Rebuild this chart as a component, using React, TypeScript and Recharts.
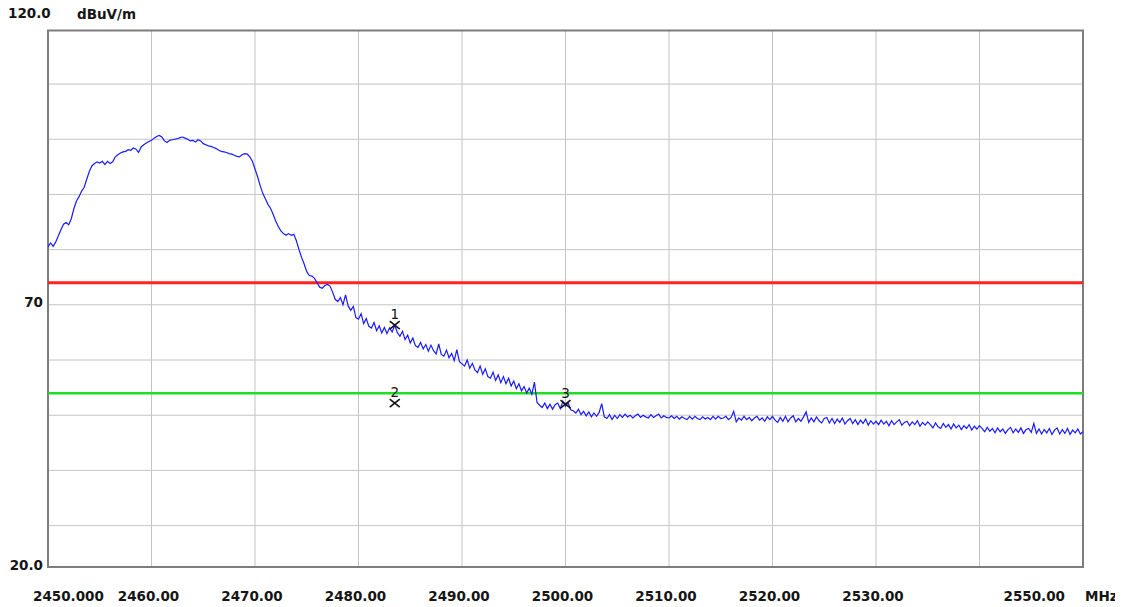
import React from 'react';
import {
  ComposedChart,
  Line,
  XAxis,
  YAxis,
  CartesianGrid,
  ReferenceLine,
  ReferenceArea,
  ReferenceDot,
} from 'recharts';

// receiver sweep: 401 points, 0.25 MHz apart, starting at 2450 MHz
const SWEEP_START = 2450;
const SWEEP_STEP = 0.25;

// 2450.00 - 2478.00 MHz (carrier)
const bandLevels = [
  80.5, 81.2, 80.6, 81.4, 82.5, 83.6, 84.6, 84.9, 84.5, 85.6, 87.4, 88.8, 89.6, 90.6, 91.3, 92.8, 94.2, 95.2, 95.6, 95.9,
  95.7, 96.0, 95.4, 96.0, 95.6, 95.9, 96.8, 97.2, 97.5, 97.7, 97.8, 98.1, 98.0, 98.4, 98.2, 97.6, 98.6, 99.0, 99.3, 99.6,
  99.8, 100.2, 100.5, 100.7, 100.4, 99.7, 99.4, 99.8, 99.9, 100.0, 100.1, 100.3, 100.4, 100.2, 100.0, 99.7, 99.8, 99.5, 99.9, 99.7,
  99.2, 99.0, 98.8, 98.7, 98.5, 98.3, 98.0, 97.8, 97.7, 97.6, 97.4, 97.3, 97.1, 96.9, 96.8, 97.2, 97.4, 97.3, 96.8, 96.0,
  94.6, 93.2, 91.6, 90.2, 89.2, 88.2, 87.5, 86.4, 85.2, 84.2, 83.4, 82.9, 82.6, 82.9, 82.6, 82.8, 81.6, 80.0, 78.6, 77.4,
  76.0, 75.3, 75.2, 74.8, 74.0, 73.2, 73.0, 73.5, 73.7, 73.4, 72.3, 71.0, 70.6,
];

// 2478.25 - 2505.00 MHz (band edge skirt)
const skirtLevels = [
  71.3, 70.0, 71.8, 69.8, 69.0, 69.7, 67.7, 67.4, 68.4, 66.6, 67.5, 66.1, 65.8, 66.8, 65.3, 66.2, 64.9, 65.9, 64.8, 65.8,
  65.1, 66.3, 65.0, 64.3, 65.2, 63.7, 64.5, 63.1, 64.0, 62.6, 62.3, 63.2, 62.0, 62.8, 61.6, 62.7, 61.7, 61.1, 62.9, 61.0,
  60.7, 61.8, 60.4, 61.2, 59.9, 61.9, 59.7, 59.3, 58.9, 60.0, 58.5, 59.4, 58.2, 57.7, 58.9, 57.4, 58.4, 57.0, 56.7, 57.8,
  56.3, 57.3, 55.9, 57.0, 55.7, 56.7, 55.3, 56.2, 54.8, 55.7, 54.4, 55.2, 54.0, 54.9, 53.8, 56.0, 52.3, 51.8, 51.4, 52.2,
  51.2, 52.0, 51.1, 51.9, 52.2, 51.2, 52.5, 51.6, 52.3, 51.0, 50.8, 50.4, 51.1, 50.1, 50.7, 49.9, 50.6, 49.7, 50.4, 49.8,
  50.5, 52.1, 49.7, 49.4, 50.1, 49.2, 50.0, 49.4,
];

// 2505.25 - 2550.00 MHz (noise floor)
const floorLevels = [
  50.1, 49.6, 50.2, 49.7, 50.0, 49.5, 49.9, 50.2, 49.6, 50.0, 49.7, 49.5, 50.1, 49.6, 49.9, 50.2, 49.5, 49.9, 49.6, 49.5,
  49.9, 49.4, 49.8, 49.3, 49.7, 49.4, 49.2, 49.8, 49.3, 49.8, 49.4, 49.2, 49.7, 49.3, 49.6, 49.2, 49.8, 49.3, 49.8, 49.4,
  49.5, 49.8, 49.2, 49.6, 50.7, 48.8, 49.5, 49.1, 49.8, 49.2, 49.6, 49.0, 49.5, 49.8, 49.1, 49.5, 48.9, 49.7, 49.2, 49.8,
  49.1, 48.7, 49.6, 48.9, 49.8, 48.8, 49.5, 49.9, 48.8, 49.4, 48.9, 49.7, 50.6, 48.7, 49.5, 48.8, 49.7, 49.0, 48.6, 49.4,
  49.6, 48.6, 49.4, 48.5, 49.3, 48.7, 49.5, 48.4, 49.0, 49.4, 48.5, 49.2, 48.3, 49.1, 48.5, 49.3, 48.2, 49.0, 48.4, 48.9,
  48.3, 49.1, 48.4, 48.9, 48.1, 49.0, 48.3, 48.8, 49.2, 48.2, 48.7, 48.9, 48.1, 48.8, 48.3, 49.0, 48.0, 48.7, 48.2, 48.8,
  48.3, 47.7, 48.6, 47.9, 47.6, 48.5, 47.8, 48.3, 47.5, 48.4, 47.7, 48.2, 47.4, 48.1, 47.6, 48.3, 47.3, 48.0, 47.5, 48.1,
  47.6, 47.0, 47.8, 47.1, 47.6, 46.8, 47.7, 47.0, 47.5, 46.7, 47.4, 47.8, 46.8, 47.5, 46.9, 47.7, 46.7, 47.4, 47.6, 46.9,
  48.5, 46.7, 47.5, 46.6, 47.4, 46.8, 47.6, 46.5, 47.3, 47.7, 46.6, 47.4, 46.7, 47.6, 46.5, 47.3, 46.8, 47.5, 46.6, 47.0,
];

const freqTicks = [2450, 2460, 2470, 2480, 2490, 2500, 2510, 2520, 2530, 2540, 2550];
const freqLabels = ['2450.000', '2460.00', '2470.00', '2480.00', '2490.00', '2500.00', '2510.00', '2520.00', '2530.00', '', '2550.00'];
const gridFreqs = [2460, 2470, 2480, 2490, 2500, 2510, 2520, 2530, 2540];
const gridLevels = [30, 40, 50, 60, 70, 80, 90, 100, 110];

// FCC 15.209 limits
const LIMIT_PEAK = 74;
const LIMIT_AVG = 54;

const markers = [
  { f: 2483.5, v: 66.3, label: '1' },
  { f: 2483.5, v: 52.2, label: '2' },
  { f: 2500, v: 52.0, label: '3' },
];

// visible part of the level axis (the screen is cut a bit above 20 dB)
const Y_MIN = 22.5;
const Y_MAX = 119.7;

const trace = [...bandLevels, ...skirtLevels, ...floorLevels].map((v, i) => ({
  f: SWEEP_START + i * SWEEP_STEP,
  v,
}));

const FONT = "'DejaVu Sans', sans-serif";
const TXT = '#151515';
const tickText = { fontFamily: FONT, fontSize: 13.5, fontWeight: 700, fill: TXT, dy: '0.35em' };

// eslint-disable-next-line @typescript-eslint/no-explicit-any
const FreqTick = (props: any) => {
  const { x, y, payload } = props;
  const idx = freqTicks.indexOf(payload.value);
  const label = freqLabels[idx];
  const ty = y + 29;
  if (idx === 0) {
    return <text x={x - 15} y={ty} textAnchor="start" {...tickText}>{label}</text>;
  }
  if (idx === freqTicks.length - 1) {
    return (
      <g>
        <text x={x - 18} y={ty} textAnchor="end" {...tickText}>{label}</text>
        <text x={x + 2} y={ty} textAnchor="start" {...tickText}>MHz</text>
      </g>
    );
  }
  if (!label) return <g />;
  return <text x={x - 3} y={ty} textAnchor="middle" {...tickText}>{label}</text>;
};

// eslint-disable-next-line @typescript-eslint/no-explicit-any
const LevelTick = (props: any) => {
  const { x, y, payload } = props;
  if (payload.value === Y_MAX) {
    return (
      <g>
        <text x={x - 40} y={y - 17} textAnchor="start" {...tickText}>120.0</text>
        <text x={x + 29} y={y - 16.5} textAnchor="start" {...tickText}>dBuV/m</text>
      </g>
    );
  }
  if (payload.value === Y_MIN) {
    return <text x={x - 5} y={y - 2} textAnchor="end" {...tickText}>20.0</text>;
  }
  return <text x={x - 5} y={y - 3} textAnchor="end" {...tickText}>70</text>;
};

// eslint-disable-next-line @typescript-eslint/no-explicit-any
const markerShape = (label: string) => (props: any) => {
  const { cx = 0, cy = 0 } = props;
  return (
    <g>
      <line x1={cx - 5} y1={cy - 4} x2={cx + 5} y2={cy + 4} stroke="#111" strokeWidth={1.6} />
      <line x1={cx - 5} y1={cy + 4} x2={cx + 5} y2={cy - 4} stroke="#111" strokeWidth={1.6} />
      <text x={cx} y={cy - 11} dy="0.35em" textAnchor="middle" fontFamily={FONT} fontSize={13.5} fill="#111">
        {label}
      </text>
    </g>
  );
};

export default function App() {
  return (
    <div style={{ width: 1123, height: 607, margin: '-8px 0 0 -8px', background: '#fff' }}>
      <ComposedChart
        width={1123}
        height={607}
        data={trace}
        margin={{ top: 30.5, right: 40, bottom: 0, left: 0 }}
      >
        <CartesianGrid stroke="#c4c4c4" horizontalValues={gridLevels} verticalValues={gridFreqs} />
        <XAxis
          type="number"
          dataKey="f"
          domain={[2450, 2550]}
          ticks={freqTicks}
          interval={0}
          tick={FreqTick}
          axisLine={false}
          tickLine={false}
          tickSize={0}
          tickMargin={0}
          height={40}
          allowDataOverflow
        />
        <YAxis
          type="number"
          domain={[Y_MIN, Y_MAX]}
          ticks={[Y_MIN, 70, Y_MAX]}
          interval={0}
          tick={LevelTick}
          axisLine={false}
          tickLine={false}
          tickSize={0}
          tickMargin={0}
          width={48}
          allowDataOverflow
        />
        <ReferenceLine y={LIMIT_PEAK} stroke="#ff2222" strokeWidth={3} />
        <ReferenceLine y={LIMIT_AVG} stroke="#1ee01e" strokeWidth={2.5} />
        <Line
          type="linear"
          dataKey="v"
          stroke="#1a1aff"
          strokeWidth={1.2}
          dot={false}
          isAnimationActive={false}
        />
        {markers.map((m) => (
          <ReferenceDot key={m.label} x={m.f} y={m.v} shape={markerShape(m.label)} />
        ))}
        <ReferenceArea
          x1={2450}
          x2={2550}
          y1={Y_MIN}
          y2={Y_MAX}
          fill="none"
          stroke="#7d7d7d"
          strokeWidth={2}
        />
      </ComposedChart>
    </div>
  );
}
